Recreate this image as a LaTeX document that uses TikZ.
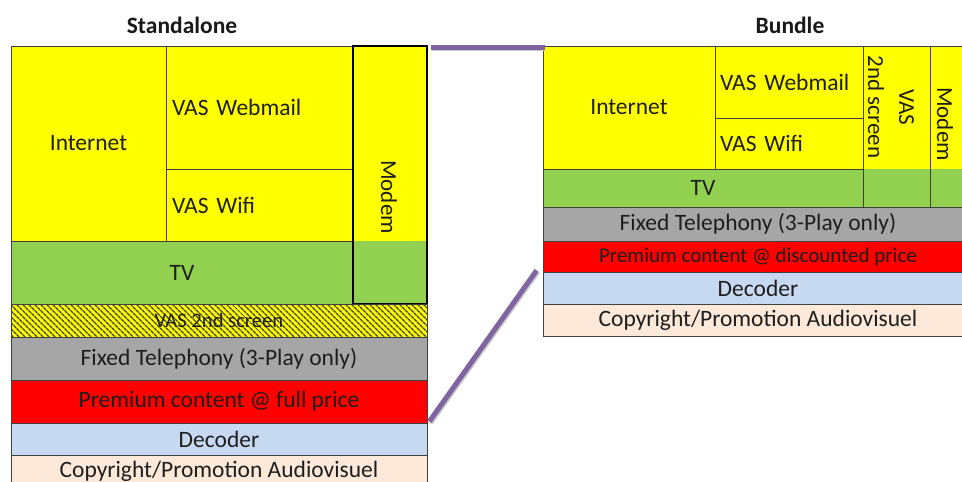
\documentclass[tikz,border=0pt]{standalone}
\usepackage{fontspec}
\setmainfont{Carlito}
\usetikzlibrary{patterns.meta,calc}
\definecolor{cyel}{HTML}{FFFF00}
\definecolor{cgrn}{HTML}{92D050}
\definecolor{cgry}{HTML}{A6A6A6}
\definecolor{cred}{HTML}{FF0000}
\definecolor{cblu}{HTML}{C6D9F1}
\definecolor{cpch}{HTML}{FDE9D9}
\definecolor{cpur}{HTML}{8064A2}
\definecolor{cline}{HTML}{404040}
\definecolor{ctxt}{HTML}{1E1E1E}
\newcommand\cellbox[7]{%
  \node[cell,#6,minimum width={(#4-#2)*1pt},minimum height={(#5-#3)*1pt}] (#1) at ({(#2+#4)/2},{(#3+#5)/2}) {#7};}
\tikzset{
  cell/.style={draw=cline,line width=0.8pt,inner sep=0pt,text=ctxt,font=\fontsize{23.5}{27}\selectfont},
  lefttext/.style={align=left,inner xsep=6pt},
  hatch/.style={preaction={fill=cyel},pattern={Lines[angle=-45,distance=4pt,line width=1.5pt]},pattern color=black!75},
  plain/.style={fill=#1,draw=none},
  thickframe/.style={draw=black,line width=2.2pt},
  vtext/.style={rotate=-90,text=ctxt,font=\fontsize{23}{31}\selectfont,inner sep=0pt,align=center},
  title/.style={font=\bfseries\fontsize{23.5}{27}\selectfont,text=black!90},
  purp/.style={draw=cpur,line width=5pt},
  purpshadow/.style={draw=black!22,line width=5pt}
}
\begin{document}
\begin{tikzpicture}[x=1pt,y=-1pt]
\path[use as bounding box] (0,0) rectangle (962,482);
\clip (0,0) rectangle (962,482);
\fill[white] (0,0) rectangle (962,482);
% titles
\node[title] (titS) at (182,25) {Standalone};
\node[title] (titB) at (790,25) {Bundle};
% Standalone
\cellbox{intS}{11}{46}{166}{241}{fill=cyel}{Internet}
\cellbox{webS}{166}{46}{353}{169}{fill=cyel,lefttext,text width=175pt}{VAS Webmail}
\cellbox{wifiS}{166}{169}{353}{241}{fill=cyel,lefttext,text width=175pt}{VAS Wifi}
\cellbox{tvS}{11}{241}{353}{304}{fill=cgrn}{TV}
\cellbox{modYS}{353}{46}{427}{241}{plain=cyel}{}
\cellbox{modGS}{353}{241}{427}{304}{plain=cgrn}{}
\cellbox{modS}{353}{46}{427}{304}{thickframe}{}
\node[vtext] (modtxtS) at (389,197) {Modem};
\cellbox{scrS}{11}{304}{427}{337}{hatch,font=\fontsize{20.6}{24}\selectfont}{VAS 2nd screen}
\cellbox{telS}{11}{337}{427}{380}{fill=cgry}{Fixed Telephony (3-Play only)}
\cellbox{premS}{11}{380}{427}{423}{fill=cred}{Premium content @ full price}
\cellbox{decS}{11}{423}{427}{455}{fill=cblu}{Decoder}
\cellbox{copS}{11}{455}{427}{487}{fill=cpch}{Copyright/Promotion Audiovisuel}
% Bundle
\cellbox{intB}{543}{46}{715}{169}{fill=cyel}{Internet}
\cellbox{webB}{715}{46}{863}{118}{fill=cyel,lefttext,inner xsep=5pt,text width=138pt}{VAS Webmail}
\cellbox{wifiB}{715}{118}{863}{169}{fill=cyel,lefttext,inner xsep=5pt,text width=138pt}{VAS Wifi}
\cellbox{tvB}{543}{169}{863}{207}{fill=cgrn}{TV}
\cellbox{scrYB}{863}{46}{930}{169}{plain=cyel}{}
\cellbox{scrGB}{863}{169}{930}{207}{plain=cgrn}{}
\cellbox{scrB}{863}{46}{930}{207}{}{}
\node[vtext] (scrtxtB) at (891,107) {VAS\\2nd screen};
\cellbox{modYB}{930}{46}{973}{169}{plain=cyel}{}
\cellbox{modGB}{930}{169}{973}{207}{plain=cgrn}{}
\cellbox{modB}{930}{46}{973}{207}{}{}
\node[vtext] (modtxtB) at (945,124) {Modem};
\cellbox{telB}{543}{207}{973}{241}{fill=cgry}{Fixed Telephony (3-Play only)}
\cellbox{premB}{543}{241}{973}{272}{fill=cred,font=\fontsize{21}{24}\selectfont}{Premium content @ discounted price}
\cellbox{decB}{543}{272}{973}{304}{fill=cblu}{Decoder}
\cellbox{copB}{543}{304}{973}{336}{fill=cpch}{Copyright/Promotion Audiovisuel}
% connectors
\coordinate (p1) at ($(modS.north east |- intB.north west)+(3,1.5)$);
\coordinate (p2) at ($(intB.north west)+(2,1.5)$);
\coordinate (p3) at ($(premS.south east)+(2,-2)$);
\coordinate (p4) at ($(premB.south west)+(-6,-2)$);
\draw[purpshadow] ($(p1)+(0.5,1.8)$) -- ($(p2)+(0.5,1.8)$);
\draw[purpshadow] ($(p3)+(1,1.5)$) -- ($(p4)+(1,1.5)$);
\draw[purp] (p1) -- (p2);
\draw[purp] (p3) -- (p4);
\end{tikzpicture}
\end{document}
